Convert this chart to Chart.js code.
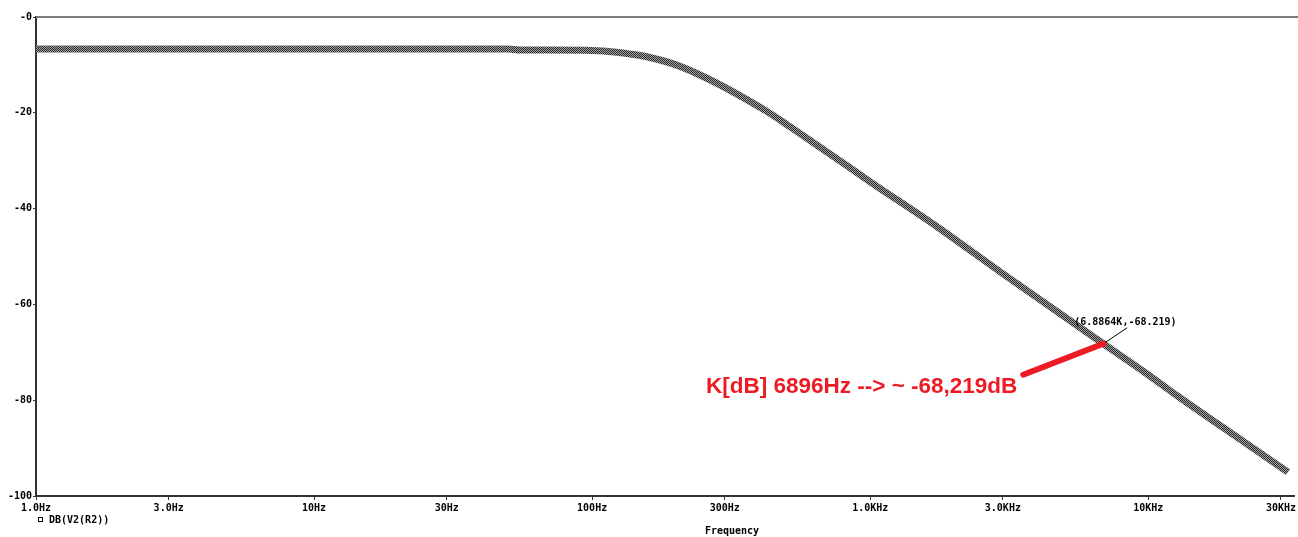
<!DOCTYPE html>
<html>
<head>
    <meta charset="utf-8">
    <title>DB(V2(R2))</title>
    <script src="https://cdn.jsdelivr.net/npm/chart.js@4.4.0/dist/chart.umd.min.js"></script>
    <style>
        body { margin: 0; background: #fff; }
        #wrap { width: 1298px; height: 537px; }
    </style>
</head>
<body>
<div id="wrap"><canvas id="myChart" width="1298" height="537"></canvas></div>

<script>
    // frequency (Hz) and level (dB)
    let freqs = [1, 2, 5, 10, 20, 50, 55, 70, 100, 120, 136, 160, 205, 263, 337, 422, 500, 700,
        1000, 1762, 3000, 6886, 10000, 12800, 20000, 31800];
    let dbValues = [-6.7, -6.7, -6.7, -6.7, -6.7, -6.7, -6.9, -6.9, -7.0, -7.3, -7.7, -8.4, -10.2, -13.0,
        -16.3, -19.6, -22.4, -28.2, -34.4, -44.0, -53.6, -68.2, -74.7, -79.2, -87.0, -95.0];

    let xTickVals = [1, 3, 10, 30, 100, 300, 1000, 3000, 10000, 30000];
    let xTickLabels = ['1.0Hz', '3.0Hz', '10Hz', '30Hz', '100Hz', '300Hz', '1.0KHz', '3.0KHz', '10KHz', '30KHz'];
    let yTickVals = [0, -20, -40, -60, -80, -100];
    let yTickLabels = ['-0', '-20', '-40', '-60', '-80', '-100'];

    let markerF = 6886.4;
    let markerDb = -68.219;
    let markerText = '(6.8864K,-68.219)';
    let noteText = 'K[dB] 6896Hz --> ~ -68,219dB';

    let monoFont = 'bold 10px "DejaVu Sans Mono", monospace';

    // checkered trace like the probe window draws it
    function makePattern() {
        let c = document.createElement('canvas');
        c.width = 2;
        c.height = 2;
        let g = c.getContext('2d');
        g.fillStyle = '#a4a4a4';
        g.fillRect(0, 0, 2, 2);
        g.fillStyle = '#2a2a2a';
        g.fillRect(0, 0, 1, 1);
        g.fillRect(1, 1, 1, 1);
        return g.createPattern(c, 'repeat');
    }

    let points = [];
    for (let i = 0; i < freqs.length; i++) {
        points.push({x: freqs[i], y: dbValues[i]});
    }

    let extras = {
        id: 'extras',
        afterDraw: function (chart) {
            let ctx = chart.ctx;
            let area = chart.chartArea;
            let xs = chart.scales.x;
            let ys = chart.scales.y;
            ctx.save();

            // top frame line
            ctx.strokeStyle = '#7a7a7a';
            ctx.lineWidth = 2;
            ctx.beginPath();
            ctx.moveTo(area.left, area.top);
            ctx.lineTo(chart.width, area.top);
            ctx.stroke();

            // marker
            let px = xs.getPixelForValue(markerF);
            let py = ys.getPixelForValue(markerDb);
            ctx.strokeStyle = '#000';
            ctx.lineWidth = 1;
            ctx.beginPath();
            ctx.moveTo(px, py);
            ctx.lineTo(px + 24, py - 16);
            ctx.stroke();
            ctx.fillStyle = '#000';
            ctx.font = monoFont;
            ctx.textAlign = 'left';
            ctx.textBaseline = 'middle';
            ctx.fillText(markerText, px - 29, py - 21);

            // red note
            ctx.strokeStyle = '#ed1c24';
            ctx.lineWidth = 6;
            ctx.lineCap = 'round';
            ctx.beginPath();
            ctx.moveTo(px - 80, py + 31);
            ctx.lineTo(px, py);
            ctx.stroke();
            ctx.fillStyle = '#ed1c24';
            let size = 25;
            do {
                ctx.font = 'bold ' + size + 'px "Liberation Sans", Arial, sans-serif';
                size -= 0.5;
            } while (ctx.measureText(noteText).width > 312 && size > 10);
            ctx.textBaseline = 'alphabetic';
            ctx.fillText(noteText, 706, 393);

            // legend + axis title
            ctx.fillStyle = '#000';
            ctx.strokeStyle = '#000';
            ctx.lineWidth = 1;
            ctx.strokeRect(38.5, 517.5, 4, 4);
            ctx.font = monoFont;
            ctx.textBaseline = 'middle';
            ctx.fillText(chart.data.datasets[0].label, 49, 520);
            ctx.textAlign = 'center';
            ctx.fillText('Frequency', 732, 531);
            ctx.restore();
        }
    };

    let ctx = document.getElementById('myChart');
    new Chart(ctx, {
        type: 'line',
        data: {
            datasets: [{
                label: 'DB(V2(R2))',
                data: points,
                borderColor: makePattern(),
                borderWidth: 7,
                pointRadius: 0,
                cubicInterpolationMode: 'monotone',
                fill: false
            }]
        },
        options: {
            responsive: false,
            animation: false,
            layout: {padding: {top: 17, right: 1, left: 0, bottom: 0}},
            plugins: {legend: {display: false}, tooltip: {enabled: false}},
            scales: {
                x: {
                    type: 'logarithmic',
                    min: 1,
                    max: 33700,
                    afterBuildTicks: function (scale) {
                        scale.ticks = xTickVals.map(function (v) { return {value: v}; });
                    },
                    afterFit: function (scale) { scale.height = 41; },
                    ticks: {
                        autoSkip: false,
                        maxRotation: 0,
                        padding: 2,
                        color: '#000',
                        font: {family: '"DejaVu Sans Mono", monospace', size: 10, weight: 'bold'},
                        callback: function (v) {
                            let i = xTickVals.indexOf(v);
                            return i >= 0 ? xTickLabels[i] : '';
                        }
                    },
                    grid: {drawOnChartArea: false, drawTicks: true, tickLength: 4, color: '#333'},
                    border: {display: true, color: '#333', width: 2}
                },
                y: {
                    type: 'linear',
                    min: -100,
                    max: 0,
                    afterFit: function (scale) { scale.width = 36; },
                    ticks: {
                        stepSize: 20,
                        padding: 1,
                        color: '#000',
                        font: {family: '"DejaVu Sans Mono", monospace', size: 10, weight: 'bold'},
                        callback: function (v) {
                            let i = yTickVals.indexOf(v);
                            return i >= 0 ? yTickLabels[i] : '';
                        }
                    },
                    grid: {drawOnChartArea: false, drawTicks: true, tickLength: 3, color: '#333'},
                    border: {display: true, color: '#333', width: 2}
                }
            }
        },
        plugins: [extras]
    });
</script>
</body>
</html>
